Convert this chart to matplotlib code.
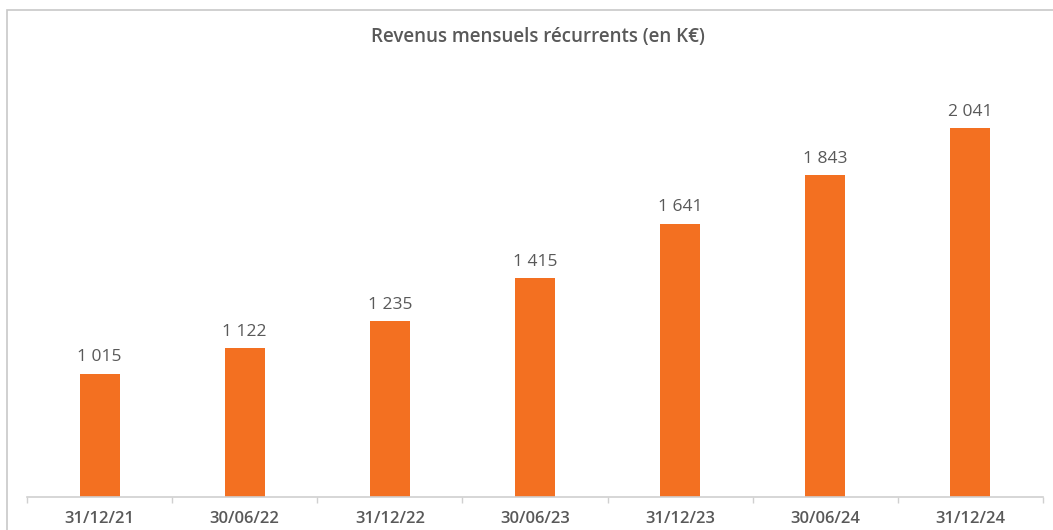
import matplotlib
matplotlib.use("Agg")
import matplotlib.pyplot as plt
from matplotlib.patches import Rectangle

dates = ["31/12/21", "30/06/22", "31/12/22", "30/06/23", "31/12/23", "30/06/24", "31/12/24"]
revenus = [1015, 1122, 1235, 1415, 1641, 1843, 2041]

orange = "#F37021"
grey = "#595959"

plt.rcParams["font.family"] = ["Open Sans", "DejaVu Sans"]

fig = plt.figure(figsize=(10.53, 5.30), dpi=100)

# outer frame (cut off at right and bottom like the screenshot)
fig.patches.append(Rectangle((7 / 1053, -0.1), 1.2, 1.1 - 10 / 530,
                             transform=fig.transFigure, fill=False,
                             edgecolor="#C8C8C8", linewidth=1.2))

ax = fig.add_axes([27 / 1053, 33 / 530, 1016 / 1053, 407 / 530])
x = range(len(dates))
bars = ax.bar(x, revenus, width=0.276, color=orange, zorder=2)

for xi, v in zip(x, revenus):
    ax.annotate(f"{v:,}".replace(",", " "), (xi, v), xytext=(0, 6),
                textcoords="offset points", ha="center", va="bottom",
                fontsize=12.5, color=grey)

ax.set_xlim(-0.5, len(dates) - 0.5)
ax.set_ylim(500, 2200)
ax.set_yticks([])
ax.set_xticks(list(x))
ax.set_xticklabels(dates, fontsize=12, color=grey, fontweight="semibold")
ax.set_xticks([i - 0.5 for i in range(len(dates) + 1)], minor=True)
ax.tick_params(axis="x", which="major", length=0, pad=10)
ax.tick_params(axis="x", which="minor", length=4, color="#D0D0D0", width=1)
for s in ["top", "right", "left"]:
    ax.spines[s].set_visible(False)
ax.spines["bottom"].set_color("#D0D0D0")
ax.spines["bottom"].set_linewidth(1.2)

fig.text(538 / 1053, 1 - 37 / 530, "Revenus mensuels récurrents (en K€)",
         ha="center", va="center", fontsize=13.5, color=grey, fontweight="semibold")

fig.savefig("out.png", dpi=100)
